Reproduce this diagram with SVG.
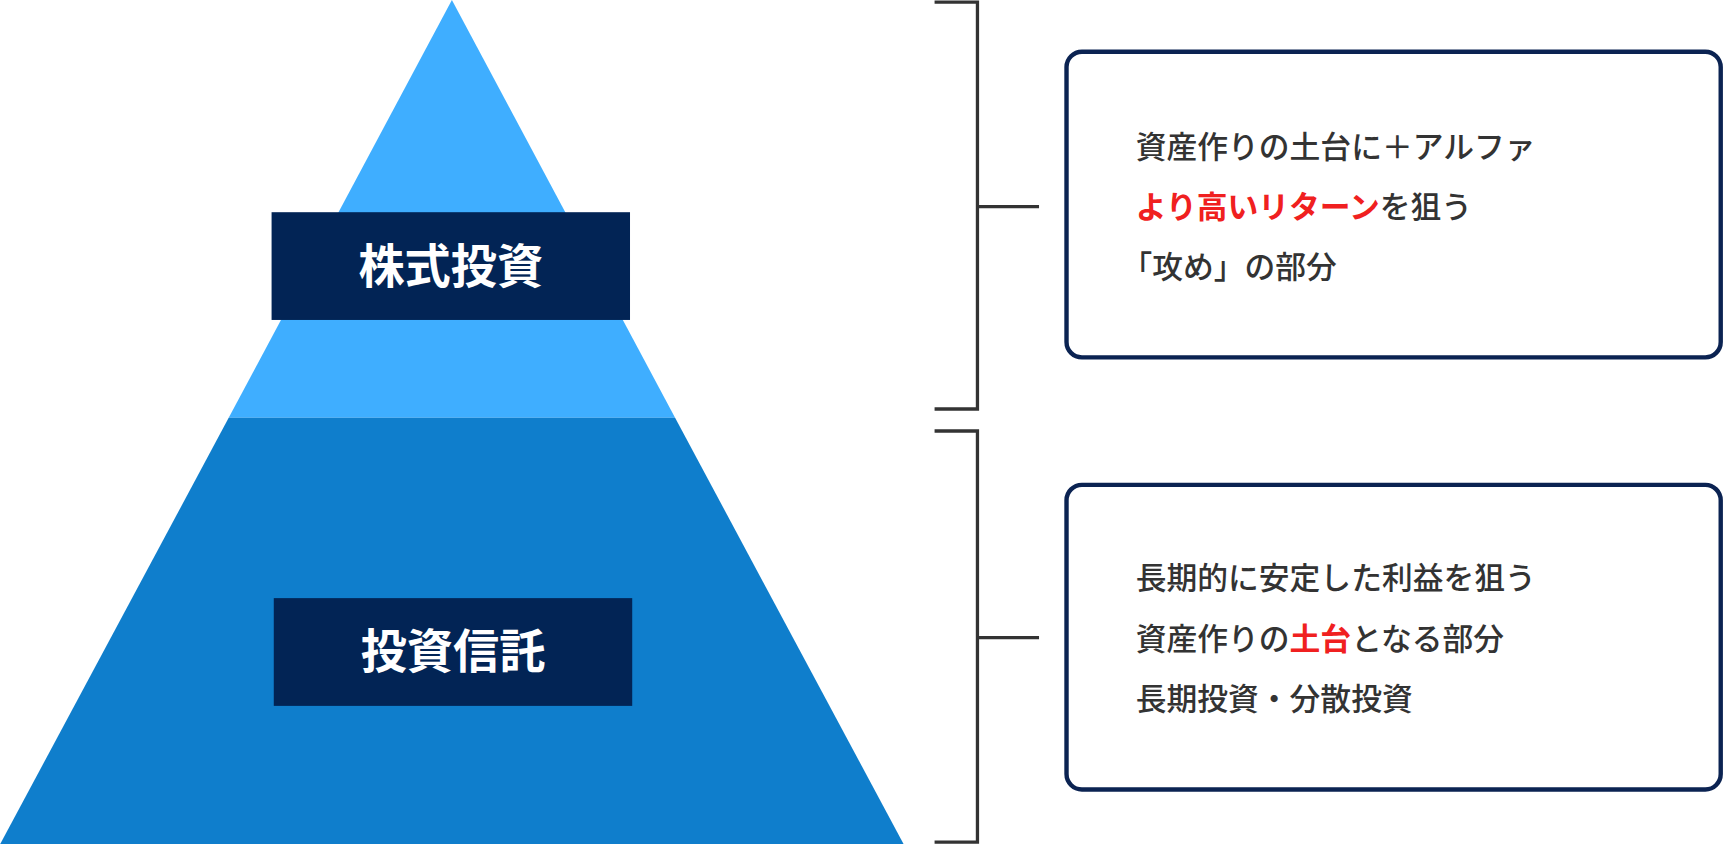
<svg xmlns="http://www.w3.org/2000/svg" width="1724" height="844" viewBox="0 0 1724 844">
<style>
.lb{fill:#022455}
.lt{fill:#fff;font:bold 42px "Noto Sans CJK JP",sans-serif;text-anchor:middle}
.br{fill:none;stroke:#333;stroke-width:3}
.bx{fill:#fff;stroke:#0B2352;stroke-width:4}
.t{fill:#333;font:500 28px "Noto Sans CJK JP",sans-serif}
.r{fill:#F02020;font-weight:bold}
</style>
<rect width="1724" height="844" fill="#fff"/>
<g transform="scale(1.0995)">
<g id="pyramid-top"><polygon points="411,0 614,380 208,380" fill="#3FAEFF"/></g>
<g id="pyramid-bottom"><polygon points="208,380 614,380 822,768 0,768" fill="#0F7ECC"/></g>
<g id="label-stock"><rect class="lb" x="247" y="193" width="326" height="98"/><text class="lt" x="410" y="257">株式投資</text></g>
<g id="label-fund"><rect class="lb" x="249" y="544" width="326" height="98"/><text class="lt" x="412" y="608">投資信託</text></g>
<g id="connectors">
<path class="br" d="M850,2 H889 V372 H850 M889,188 H945"/>
<path class="br" d="M850,392 H889 V766 H850 M889,580 H945"/>
</g>
<g id="desc-top"><rect class="bx" x="970" y="47" width="595" height="278" rx="14"/>
<text class="t" x="1033" y="144">資産作りの土台に＋アルファ</text>
<text class="t" x="1033" y="198"><tspan class="r">より高いリターン</tspan>を狙う</text>
<text class="t" x="1020" y="253">「攻め」の部分</text></g>
<g id="desc-bottom"><rect class="bx" x="970" y="441" width="595" height="277" rx="14"/>
<text class="t" x="1033" y="536">長期的に安定した利益を狙う</text>
<text class="t" x="1033" y="591">資産作りの<tspan class="r">土台</tspan>となる部分</text>
<text class="t" x="1033" y="646">長期投資・分散投資</text></g>
</g>
</svg>
